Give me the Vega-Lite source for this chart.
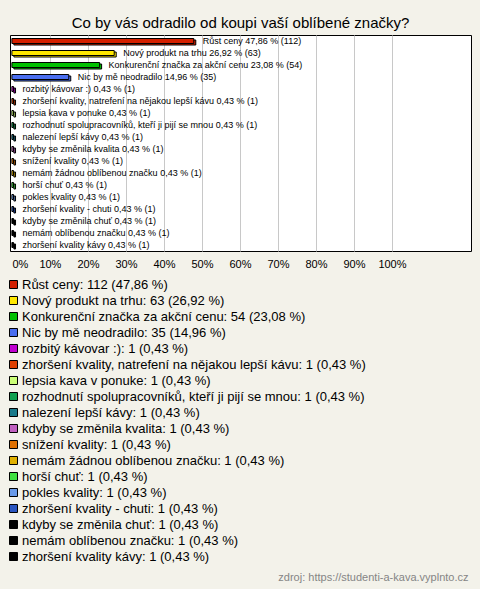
{
  "$schema": "https://vega.github.io/schema/vega-lite/v6.json",
  "autosize": {"type": "none"},
  "width": 461,
  "height": 216,
  "padding": {"left": 10, "top": 35, "right": 9, "bottom": 338},
  "background": "#f3f2ea",
  "config": {
    "font": "Liberation Sans",
    "view": {"fill": "white", "stroke": "black", "strokeWidth": 1}
  },
  "title": {
    "text": "Co by vás odradilo od koupi vaší oblíbené značky?",
    "fontSize": 15,
    "fontWeight": "normal",
    "font": "Liberation Sans",
    "anchor": "middle",
    "baseline": "bottom",
    "offset": 6,
    "dy": 17,
    "color": "black"
  },
  "data": {
    "values": [
      {"cat": "Růst ceny", "count": 112, "pct": 47.86, "label": "Růst ceny 47,86 % (112)", "legend": "Růst ceny: 112 (47,86 %)"},
      {"cat": "Nový produkt na trhu", "count": 63, "pct": 26.92, "label": "Nový produkt na trhu 26,92 % (63)", "legend": "Nový produkt na trhu: 63 (26,92 %)"},
      {"cat": "Konkurenční značka za akční cenu", "count": 54, "pct": 23.08, "label": "Konkurenční značka za akční cenu 23,08 % (54)", "legend": "Konkurenční značka za akční cenu: 54 (23,08 %)"},
      {"cat": "Nic by mě neodradilo", "count": 35, "pct": 14.96, "label": "Nic by mě neodradilo 14,96 % (35)", "legend": "Nic by mě neodradilo: 35 (14,96 %)"},
      {"cat": "rozbitý kávovar :)", "count": 1, "pct": 0.43, "label": "rozbitý kávovar :) 0,43 % (1)", "legend": "rozbitý kávovar :): 1 (0,43 %)"},
      {"cat": "zhoršení kvality, natrefení na nějakou lepší kávu", "count": 1, "pct": 0.43, "label": "zhoršení kvality, natrefení na nějakou lepší kávu 0,43 % (1)", "legend": "zhoršení kvality, natrefení na nějakou lepší kávu: 1 (0,43 %)"},
      {"cat": "lepsia kava v ponuke", "count": 1, "pct": 0.43, "label": "lepsia kava v ponuke 0,43 % (1)", "legend": "lepsia kava v ponuke: 1 (0,43 %)"},
      {"cat": "rozhodnutí spolupracovníků, kteří ji pijí se mnou", "count": 1, "pct": 0.43, "label": "rozhodnutí spolupracovníků, kteří ji pijí se mnou 0,43 % (1)", "legend": "rozhodnutí spolupracovníků, kteří ji pijí se mnou: 1 (0,43 %)"},
      {"cat": "nalezení lepší kávy", "count": 1, "pct": 0.43, "label": "nalezení lepší kávy 0,43 % (1)", "legend": "nalezení lepší kávy: 1 (0,43 %)"},
      {"cat": "kdyby se změnila kvalita", "count": 1, "pct": 0.43, "label": "kdyby se změnila kvalita 0,43 % (1)", "legend": "kdyby se změnila kvalita: 1 (0,43 %)"},
      {"cat": "snížení kvality", "count": 1, "pct": 0.43, "label": "snížení kvality 0,43 % (1)", "legend": "snížení kvality: 1 (0,43 %)"},
      {"cat": "nemám žádnou oblíbenou značku", "count": 1, "pct": 0.43, "label": "nemám žádnou oblíbenou značku 0,43 % (1)", "legend": "nemám žádnou oblíbenou značku: 1 (0,43 %)"},
      {"cat": "horší chuť", "count": 1, "pct": 0.43, "label": "horší chuť 0,43 % (1)", "legend": "horší chuť: 1 (0,43 %)"},
      {"cat": "pokles kvality", "count": 1, "pct": 0.43, "label": "pokles kvality 0,43 % (1)", "legend": "pokles kvality: 1 (0,43 %)"},
      {"cat": "zhoršení kvality - chuti", "count": 1, "pct": 0.43, "label": "zhoršení kvality - chuti 0,43 % (1)", "legend": "zhoršení kvality - chuti: 1 (0,43 %)"},
      {"cat": "kdyby se změnila chuť", "count": 1, "pct": 0.43, "label": "kdyby se změnila chuť 0,43 % (1)", "legend": "kdyby se změnila chuť: 1 (0,43 %)"},
      {"cat": "nemám oblíbenou značku", "count": 1, "pct": 0.43, "label": "nemám oblíbenou značku 0,43 % (1)", "legend": "nemám oblíbenou značku: 1 (0,43 %)"},
      {"cat": "zhoršení kvality kávy", "count": 1, "pct": 0.43, "label": "zhoršení kvality kávy 0,43 % (1)", "legend": "zhoršení kvality kávy: 1 (0,43 %)"}
    ]
  },
  "encoding": {
    "y": {"field": "cat", "type": "nominal", "sort": null, "scale": {"paddingInner": 0, "paddingOuter": 0}, "axis": null},
    "color": {
      "field": "legend",
      "type": "nominal",
      "sort": null,
      "scale": {
        "domain": [
          "Růst ceny: 112 (47,86 %)",
          "Nový produkt na trhu: 63 (26,92 %)",
          "Konkurenční značka za akční cenu: 54 (23,08 %)",
          "Nic by mě neodradilo: 35 (14,96 %)",
          "rozbitý kávovar :): 1 (0,43 %)",
          "zhoršení kvality, natrefení na nějakou lepší kávu: 1 (0,43 %)",
          "lepsia kava v ponuke: 1 (0,43 %)",
          "rozhodnutí spolupracovníků, kteří ji pijí se mnou: 1 (0,43 %)",
          "nalezení lepší kávy: 1 (0,43 %)",
          "kdyby se změnila kvalita: 1 (0,43 %)",
          "snížení kvality: 1 (0,43 %)",
          "nemám žádnou oblíbenou značku: 1 (0,43 %)",
          "horší chuť: 1 (0,43 %)",
          "pokles kvality: 1 (0,43 %)",
          "zhoršení kvality - chuti: 1 (0,43 %)",
          "kdyby se změnila chuť: 1 (0,43 %)",
          "nemám oblíbenou značku: 1 (0,43 %)",
          "zhoršení kvality kávy: 1 (0,43 %)"
        ],
        "range": ["#d42000", "#ffe800", "#00c000", "#4a6ef0", "#c000d0", "#e04000", "#ccff77", "#10a050", "#1a7a8a", "#c060c0", "#e07000", "#e0b000", "#40e040", "#6a9ae8", "#2a55c0", "#000000", "#000000", "#000000"]
      },
      "legend": {
        "orient": "none",
        "legendX": -3,
        "legendY": 243,
        "title": null,
        "direction": "vertical",
        "symbolType": "square",
        "symbolSize": 64,
        "symbolStrokeColor": "black",
        "symbolStrokeWidth": 1,
        "symbolOpacity": 1,
        "labelFontSize": 13,
        "labelFont": "Liberation Sans",
        "labelColor": "black",
        "labelOffset": 2,
        "labelLimit": 600,
        "rowPadding": 2,
        "padding": 0
      }
    }
  },
  "layer": [
    {
      "mark": {"type": "bar", "height": 5, "xOffset": 2, "yOffset": 1.5, "stroke": "black", "strokeWidth": 1},
      "encoding": {
        "x": {"field": "pct", "type": "quantitative", "scale": {"domain": [-0.5, 120.8], "nice": false}}
      }
    },
    {
      "mark": {"type": "bar", "height": 5, "stroke": "black", "strokeWidth": 1},
      "encoding": {
        "x": {
          "field": "pct",
          "type": "quantitative",
          "scale": {"domain": [-0.5, 120.8], "nice": false},
          "axis": {
            "values": [0, 10, 20, 30, 40, 50, 60, 70, 80, 90, 100],
            "labelExpr": "datum.value + '%'",
            "labelFontSize": 11,
            "labelColor": "black",
            "labelFont": "Liberation Sans",
            "labelAlign": {"condition": {"test": "datum.value == 0", "value": "left"}, "value": "center"},
            "labelDx": {"condition": {"test": "datum.value == 0", "value": -1}, "value": 0},
            "labelPadding": 7,
            "ticks": false,
            "domain": false,
            "grid": true,
            "gridColor": "#c8c8c8",
            "gridOpacity": {"condition": {"test": "datum.value == 0", "value": 0}, "value": 1},
            "title": "zdroj: https://studenti-a-kava.vyplnto.cz",
            "titleColor": "#858585",
            "titleFontSize": 11,
            "titleFontWeight": "normal",
            "titleFont": "Liberation Sans",
            "titleAlign": "right",
            "titleBaseline": "alphabetic",
            "titleX": 458,
            "titleY": 329
          }
        }
      }
    },
    {
      "mark": {"type": "text", "align": "left", "baseline": "middle", "dx": 9, "fontSize": 9, "font": "Liberation Sans"},
      "encoding": {
        "x": {"field": "pct", "type": "quantitative", "scale": {"domain": [-0.5, 120.8], "nice": false}},
        "text": {"field": "label"},
        "color": {"value": "black"}
      }
    }
  ]
}
